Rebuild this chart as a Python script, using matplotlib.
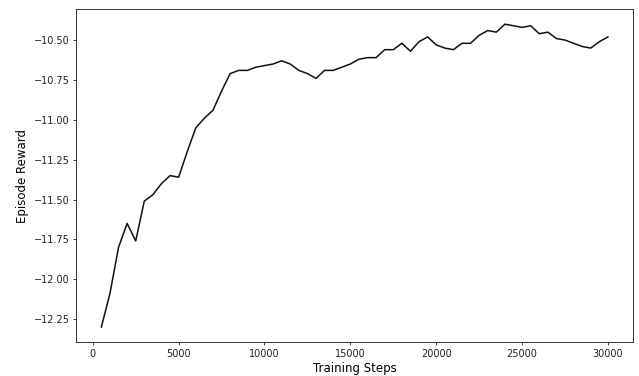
import matplotlib
matplotlib.use('Agg')
import matplotlib.pyplot as plt

# training curve values
steps = list(range(500, 30001, 500))
rewards = [
    -12.30, -12.09, -11.80, -11.65, -11.76, -11.51, -11.47, -11.40, -11.35, -11.36,
    -11.20, -11.05, -10.99, -10.94, -10.82, -10.71, -10.69, -10.69, -10.67, -10.66,
    -10.65, -10.63, -10.65, -10.69, -10.71, -10.74, -10.69, -10.69, -10.67, -10.65,
    -10.62, -10.61, -10.61, -10.56, -10.56, -10.52, -10.57, -10.51, -10.48, -10.53,
    -10.55, -10.56, -10.52, -10.52, -10.47, -10.44, -10.45, -10.40, -10.41, -10.42,
    -10.41, -10.46, -10.45, -10.49, -10.50, -10.52, -10.54, -10.55, -10.51, -10.48,
]

fig, ax = plt.subplots(figsize=(6.39, 3.76), dpi=100)
ax.plot(steps, rewards, color="#111111", linewidth=1.1)
ax.set_xlabel("Training Steps", fontsize=8.5, labelpad=2.5)
ax.set_ylabel("Episode Reward", fontsize=8.5, labelpad=3)
ax.tick_params(labelsize=7, length=2.5, width=0.6, pad=2.2, colors="#222222")
for s in ax.spines.values():
    s.set_linewidth(0.7)
    s.set_color("#333333")
fig.subplots_adjust(left=0.119, right=0.991, top=0.976, bottom=0.09)
fig.savefig("out.png", dpi=100)
plt.close(fig)
